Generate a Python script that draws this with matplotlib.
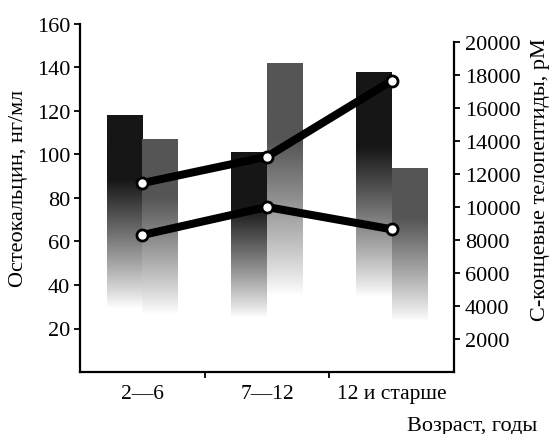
import matplotlib
matplotlib.use("Agg")
import matplotlib.pyplot as plt
import numpy as np
from matplotlib.colors import to_rgb

# Данные
groups = ["2—6", "7—12", "12 и старше"]
osteo_dark = [118, 101, 138]       # тёмные столбики, нг/мл
osteo_light = [107, 142, 94]       # светлые столбики, нг/мл
ctx_upper = [11450, 13050, 17650]  # верхняя линия, pM
ctx_lower = [8300, 10000, 8650]    # нижняя линия, pM

plt.rcParams["font.family"] = ["Liberation Serif", "DejaVu Serif"]


def fill_gradient(ax, bars, top_color):
    # столбик темный сверху и растворяется в белый книзу
    c = np.array(to_rgb(top_color))
    v = np.linspace(0, 1, 300)[:, None]
    t = np.clip((v - 0.25) / 0.5, 0, 1) ** 0.9
    img = (1 - t)[..., None] + t[..., None] * c
    for b in bars:
        x0, w, h = b.get_x(), b.get_width(), b.get_height()
        im = ax.imshow(img, extent=[x0, x0 + w, 0, h], origin="lower",
                       aspect="auto", interpolation="bilinear", zorder=1)
        im.set_clip_path(b)


fig = plt.figure(figsize=(5.53, 4.35), dpi=100)
ax = fig.add_axes([80 / 553, 62 / 435, 374 / 553, 348 / 435])

x = np.arange(len(groups))
w = 0.285
b1 = ax.bar(x - w / 2, osteo_dark, w, color="none", edgecolor="none")
b2 = ax.bar(x + w / 2, osteo_light, w, color="none", edgecolor="none")
fill_gradient(ax, b1, "#161616")
fill_gradient(ax, b2, "#555555")

ax.set_xlim(-0.5, 2.5)
ax.set_ylim(0, 160)
ax.set_yticks(range(20, 161, 20))
ax.set_xticks(x, groups)
ax.set_xticks([0.5, 1.5], minor=True)
ax.tick_params(axis="x", which="major", length=0, labelsize=15.5, pad=9)
ax.tick_params(axis="x", which="minor", length=4, width=1.3, direction="out")
ax.tick_params(axis="y", direction="out", length=4, width=1.3, labelsize=16, pad=3)
for s in ["top", "right"]:
    ax.spines[s].set_visible(False)
for s in ["left", "bottom"]:
    ax.spines[s].set_linewidth(1.6)

ax2 = ax.twinx()
ax2.set_ylim(0, 20000 * 348 / 330)
ax2.set_yticks(range(2000, 20001, 2000))
ax2.tick_params(axis="y", direction="out", length=4, width=1.3, labelsize=16, pad=4)
for s in ["top", "left", "bottom"]:
    ax2.spines[s].set_visible(False)
ax2.spines["right"].set_bounds(0, 20000)
ax2.spines["right"].set_linewidth(1.6)

for vals in (ctx_upper, ctx_lower):
    ax2.plot(x, vals, color="black", lw=5.8, marker="o", ms=8,
             mfc="white", mec="black", mew=2, zorder=3, solid_capstyle="butt")

fig.text(19 / 553, 1 - 188 / 435, "Остеокальцин, нг/мл", rotation=90,
         ha="center", va="center", fontsize=16)
fig.text(541 / 553, 1 - 180 / 435, "С-концевые телопептиды, pM", rotation=90,
         ha="center", va="center", fontsize=16)
fig.text(537 / 553, 1 - 427 / 435, "Возраст, годы", ha="right", va="center",
         fontsize=16)

fig.savefig("out.png", dpi=100)
